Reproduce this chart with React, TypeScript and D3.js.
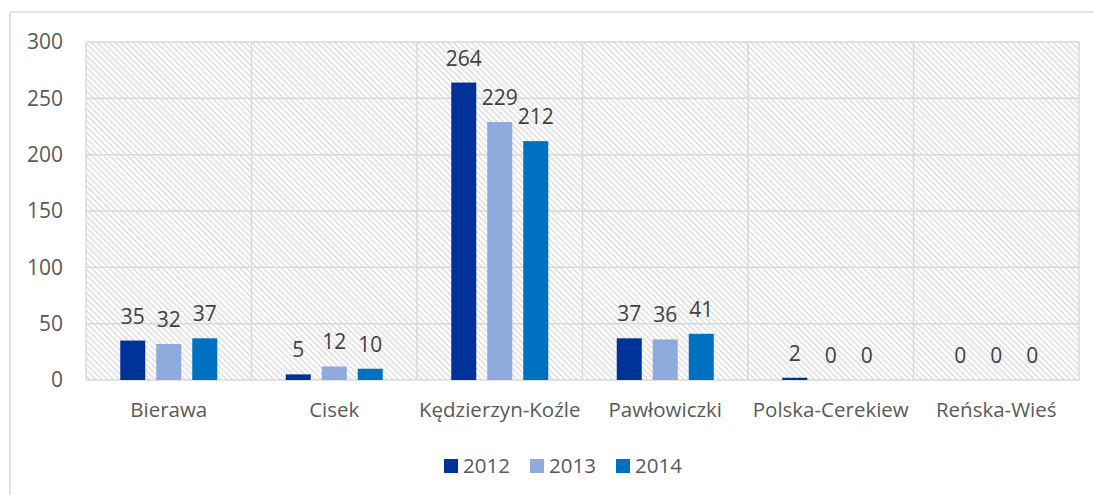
import React from 'react';
import * as d3 from 'd3';

const categories = ['Bierawa', 'Cisek', 'Kędzierzyn-Koźle', 'Pawłowiczki', 'Polska-Cerekiew', 'Reńska-Wieś'];
const years = ['2012', '2013', '2014'];
const values2012 = [35, 5, 264, 37, 2, 0];
const values2013 = [32, 12, 229, 36, 0, 0];
const values2014 = [37, 10, 212, 41, 0, 0];
const yTicks = [0, 50, 100, 150, 200, 250, 300];
const colors = ['#003399', '#8FAADC', '#0070C0'];

const seriesValues = [values2012, values2013, values2014];

export default function App() {
  const width = 1094;
  const height = 495;
  const margin = { top: 42, right: 15, bottom: 115, left: 86 };
  const innerWidth = width - margin.left - margin.right;
  const innerHeight = height - margin.top - margin.bottom;
  const font = 'Open Sans, sans-serif';

  const x = d3.scaleBand().domain(categories).range([0, innerWidth]);
  const y = d3.scaleLinear().domain([0, 300]).range([innerHeight, 0]);
  const bw = 25;
  const step = 36;

  return (
    <div style={{ position: 'absolute', left: 0, top: 0 }}>
      <svg width={width} height={height} style={{ display: 'block', background: '#fff' }}>
        <defs>
          <pattern id="hatch" patternUnits="userSpaceOnUse" width="4.2" height="4.2" patternTransform="rotate(45)">
            <rect x="0" y="0" width="4.2" height="1.4" fill="#dcdcdc" />
          </pattern>
        </defs>
        <rect x={10} y={12} width={width} height={height} fill="#fff" stroke="#d9d9d9" strokeWidth={1.5} />
        <g transform={`translate(${margin.left},${margin.top})`}>
          <rect x={0} y={0} width={innerWidth} height={innerHeight} fill="url(#hatch)" />
          {yTicks.map((t) => (
            <line key={t} x1={0} x2={innerWidth} y1={y(t)} y2={y(t)} stroke="#d9d9d9" strokeWidth={1.5} />
          ))}
          {categories.map((c) => (
            <line key={c} x1={x(c)!} x2={x(c)!} y1={0} y2={innerHeight} stroke="#d9d9d9" strokeWidth={1.5} />
          ))}
          <line x1={innerWidth} x2={innerWidth} y1={0} y2={innerHeight} stroke="#d9d9d9" strokeWidth={1.5} />
          {yTicks.map((t) => (
            <text key={t} x={-23} y={y(t)} dy="0.35em" textAnchor="end" fontFamily={font} fontSize={21} fill="#595959">
              {t}
            </text>
          ))}
          {categories.map((c, ci) => {
            const cx = x(c)! + x.bandwidth() / 2;
            return (
              <g key={c}>
                {seriesValues.map((vals, si) => {
                  const bx = cx + (si - 1) * step - bw / 2;
                  const v = vals[ci];
                  return (
                    <g key={si}>
                      <rect x={bx} y={y(v)} width={bw} height={innerHeight - y(v)} fill={colors[si]} />
                      <text x={bx + bw / 2} y={y(v) - 17} textAnchor="middle" fontFamily={font} fontSize={21} fill="#404040">
                        {v}
                      </text>
                    </g>
                  );
                })}
                <text x={cx} y={innerHeight + 37} textAnchor="middle" fontFamily={font} fontSize={20.5} fill="#595959">
                  {c}
                </text>
              </g>
            );
          })}
        </g>
        <g>
          {years.map((yr, i) => (
            <g key={yr} transform={`translate(${444 + i * 86},459)`}>
              <rect x={0} y={0} width={14} height={14} fill={colors[i]} />
              <text x={19} y={14} fontFamily={font} fontSize={20.5} fill="#595959">
                {yr}
              </text>
            </g>
          ))}
        </g>
      </svg>
    </div>
  );
}
